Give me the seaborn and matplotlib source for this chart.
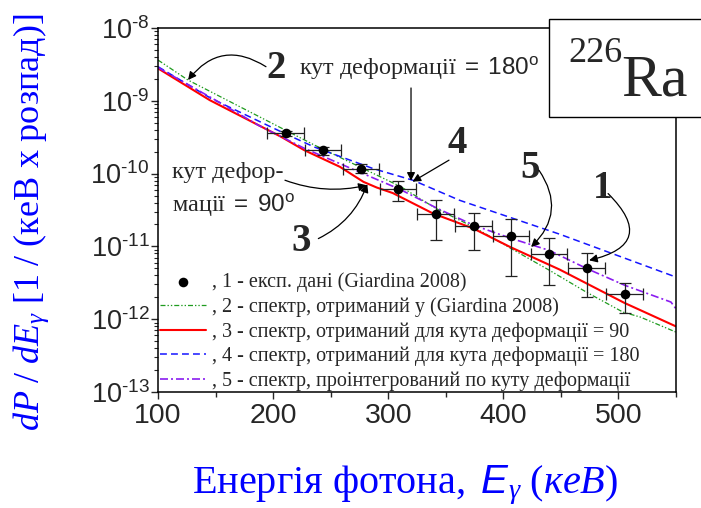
import numpy as np
import matplotlib
matplotlib.use("Agg")
import matplotlib.pyplot as plt
import seaborn as sns
from matplotlib.patches import Rectangle
from matplotlib.font_manager import FontProperties
from matplotlib.ticker import LogLocator, MultipleLocator, NullFormatter

# ---------------- data ----------------
exp_E = [211.0, 243.4, 276.4, 308.5, 341.4, 374.4, 406.7, 439.7, 472.4, 505.3]
exp_P = [3.56e-10, 2.10e-10, 1.15e-10, 6.1e-11, 2.83e-11, 1.89e-11, 1.41e-11, 7.96e-12, 5.08e-12, 2.24e-12]
exp_lo = [3.3e-10, 1.79e-10, 1.02e-10, 4.17e-11, 1.21e-11, 9.0e-12, 3.96e-12, 2.98e-12, 2.01e-12, 1.21e-12]
exp_hi = [3.8e-10, 2.33e-10, 1.35e-10, 7.9e-11, 4.4e-11, 2.92e-11, 2.36e-11, 1.30e-11, 8.04e-12, 3.18e-12]
exp_dE = [16, 16, 16, 16, 16, 16, 16, 16, 16, 16]

E_giardina = [100, 126, 236, 269, 311, 341, 374, 407, 440, 472, 504, 519, 550]
P_giardina = [3.63e-9, 1.93e-9, 2.46e-10, 1.38e-10, 6.6e-11, 3.35e-11, 1.85e-11, 9.3e-12,
              4.7e-12, 2.36e-12, 1.25e-12, 1.07e-12, 6.65e-13]

E_90 = [100, 145, 207, 227, 258, 278.5, 290, 304, 339, 374, 406, 449, 505, 550]
P_90 = [2.79e-9, 1.02e-9, 3.2e-10, 2.10e-10, 1.24e-10, 7.7e-11, 6.44e-11, 5.4e-11,
        2.83e-11, 1.76e-11, 9.8e-12, 4.8e-12, 1.68e-12, 7.96e-13]

E_180 = [100, 146, 210, 236, 287, 321.5, 362, 449, 550]
P_180 = [2.94e-9, 1.08e-9, 3.56e-10, 2.31e-10, 1.17e-10, 8.1e-11, 4.3e-11, 1.47e-11, 3.79e-12]

E_int = [100, 150, 187, 227.5, 275, 310, 343, 374.4, 406, 440, 472, 505.6, 545.6, 550]
P_int = [2.86e-9, 1.02e-9, 4.63e-10, 2.21e-10, 1.05e-10, 6.1e-11, 3.31e-11, 1.95e-11,
         1.3e-11, 8.8e-12, 5.0e-12, 2.92e-12, 1.72e-12, 1.39e-12]

legend_labels = [
    ", 1 - експ. дані (Giardina 2008)",
    ", 2 - спектр, отриманий у (Giardina 2008)",
    ", 3 - спектр, отриманий для кута деформації = 90",
    ", 4 - спектр, отриманий для кута деформації = 180",
    ", 5 - спектр, проінтегрований по куту деформації",
]
x_ticks = [100, 200, 300, 400, 500]
y_ticks = [1e-13, 1e-12, 1e-11, 1e-10, 1e-9, 1e-8]
y_tick_labels = ["$\\mathsf{10^{\u2010" + e + "}}$" for e in ["13", "12", "11", "10", "9", "8"]]

# ---------------- style ----------------
sns.set_style("ticks")
plt.rcParams.update({
    "font.family": ["Liberation Sans", "DejaVu Sans"],
    "mathtext.fontset": "custom",
    "mathtext.rm": "Liberation Serif",
    "mathtext.it": "Liberation Serif:italic",
    "mathtext.sf": "Liberation Sans",
    "mathtext.bf": "Liberation Sans:italic",
    "axes.linewidth": 1.1,
    "axes.edgecolor": "black",
})

fig = plt.figure(figsize=(7.01, 5.08), dpi=100)
ax = fig.add_axes([158 / 701, 116 / 508, 518 / 701, 364 / 508])
ax.set_yscale("log")

green = "#1f9b1f"
red = "#ff0000"
blue = "#1515ff"
purple = "#8a1cf0"

sns.lineplot(x=E_giardina, y=P_giardina, ax=ax, color=green, lw=0.9,
             linestyle=(0, (4, 1.6, 1.1, 1.6, 1.1, 1.6)), label=legend_labels[1])
sns.lineplot(x=E_90, y=P_90, ax=ax, color=red, lw=1.5, linestyle="-", label=legend_labels[2])
sns.lineplot(x=E_180, y=P_180, ax=ax, color=blue, lw=1.1,
             linestyle=(0, (4.5, 2.7)), label=legend_labels[3])
sns.lineplot(x=E_int, y=P_int, ax=ax, color=purple, lw=1.2,
             linestyle=(0, (4.8, 1.8, 1.2, 1.8)), label=legend_labels[4])

exp_P_a = np.array(exp_P)
yerr = [exp_P_a - np.array(exp_lo), np.array(exp_hi) - exp_P_a]
ax.errorbar(exp_E, exp_P, xerr=exp_dE, yerr=yerr, fmt="none", ecolor="#222222",
            elinewidth=0.9, capsize=4, capthick=0.9, zorder=4)
sns.scatterplot(x=exp_E, y=exp_P, ax=ax, color="black", s=48, edgecolor="black",
                linewidth=0, zorder=5, label=legend_labels[0])

ax.set_xlim(100, 550)
ax.set_ylim(1e-13, 1e-8)
ax.set_xticks(x_ticks)
ax.set_xticklabels([str(t) for t in x_ticks])
ax.xaxis.set_minor_locator(MultipleLocator(50))
ax.set_yticks(y_ticks)
ax.set_yticklabels(y_tick_labels)
ax.yaxis.set_minor_locator(LogLocator(base=10, subs=np.arange(2, 10), numticks=20))
ax.yaxis.set_minor_formatter(NullFormatter())
for s in ["top", "right", "left", "bottom"]:
    ax.spines[s].set_visible(True)
ax.tick_params(axis="x", which="major", direction="out", length=5, width=1, labelsize=20.5, pad=3)
ax.tick_params(axis="x", which="minor", direction="out", length=3.5, width=1)
ax.tick_params(axis="y", which="major", direction="out", length=5, width=1, labelsize=19.5, pad=1)
ax.tick_params(axis="y", which="minor", direction="out", length=3, width=0.8)
ax.set_xlabel("")
ax.set_ylabel("")

# legend
h, l = ax.get_legend_handles_labels()
hm = dict(zip(l, h))
leg = ax.legend([hm[k] for k in legend_labels], legend_labels, loc="upper left",
                bbox_to_anchor=(0.004, 0.328), frameon=False,
                prop=FontProperties(family="Liberation Serif", size=14.5),
                handlelength=2.3, handletextpad=0.28, labelspacing=0.25,
                borderpad=0, borderaxespad=0)

# annotations
arrow = dict(arrowstyle="-|>", color="black", lw=0.9, mutation_scale=12, shrinkA=0, shrinkB=0)
big = dict(family="Liberation Serif", weight="bold", size=28, ha="center", va="center")
ax.text(202.5, 2.8e-9, "2", **big)
ax.annotate("", xy=(126.1, 1.93e-9), xytext=(193.8, 2.94e-9), annotation_clip=False,
            arrowprops=dict(arrow, connectionstyle="arc3,rad=0.45"))
ax.text(327.2, 2.26e-9, r"$\mathrm{кут\ деформації}\ \mathsf{=\ 180^{o}}$", size=17.5,
        ha="center", va="baseline")
ax.annotate("", xy=(319.8, 7.98e-11), xytext=(319.8, 1.5e-9),
            arrowprops=dict(arrow, connectionstyle="arc3,rad=0"))
ax.text(360.2, 2.6e-10, "4", **big)
ax.annotate("", xy=(321.1, 7.74e-11), xytext=(352.8, 1.53e-10),
            arrowprops=dict(arrow, connectionstyle="arc3,rad=0"))
ax.text(112.2, 8.64e-11, "кут дефор-", family="Liberation Serif", size=17.5,
        ha="left", va="baseline")
ax.text(112.2, 2.97e-11, r"$\mathrm{мації}\ \mathsf{=\ 90^{o}}$", size=17.5, ha="left", va="baseline")
ax.annotate("", xy=(281.3, 6.92e-11), xytext=(210.3, 8.11e-11),
            arrowprops=dict(arrow, connectionstyle="arc3,rad=0.15"))
ax.text(224.7, 1.17e-11, "3", **big)
ax.annotate("", xy=(281.8, 7.15e-11), xytext=(239.3, 1.28e-11),
            arrowprops=dict(arrow, connectionstyle="arc3,rad=0.2"))
ax.text(423.2, 1.19e-10, "5", **big)
ax.annotate("", xy=(424.1, 9.82e-12), xytext=(431.0, 1.11e-10),
            arrowprops=dict(arrow, connectionstyle="arc3,rad=-0.42"))
ax.text(486.6, 6.3e-11, "1", **big)
ax.annotate("", xy=(474.5, 6.44e-12), xytext=(491.0, 5.32e-11),
            arrowprops=dict(arrow, connectionstyle="arc3,rad=-0.9"))

# isotope box
fig.add_artist(Rectangle((549 / 701, (508 - 117) / 508), 0.3, 98 / 508, transform=fig.transFigure,
                         facecolor="white", edgecolor="black", lw=1.0, zorder=10))
fig.text(568 / 701, (508 - 62) / 508, "226", family="Liberation Serif", size=26,
         ha="left", va="baseline", zorder=11)
fig.text(621 / 701, (508 - 95) / 508, "Ra", family="Liberation Serif", size=43,
         ha="left", va="baseline", zorder=11)

# axis labels
fig.text(405 / 701, (508 - 493) / 508,
         r"$\mathrm{Енергія\ фотона,\ }\mathbf{E}_{\gamma}\ \mathit{(кеВ)}$",
         color="#0000ff", size=29, ha="center", va="baseline")
fig.text(31 / 701, (508 - 222) / 508,
         r"$\mathit{dP\ /\ dE}_{\gamma}\ \mathrm{[1\ /\ (кеВ\ х\ розпад)]}$",
         color="#0000ff", size=26, ha="center", va="center", rotation=90)

fig.savefig("out.png", dpi=100)
